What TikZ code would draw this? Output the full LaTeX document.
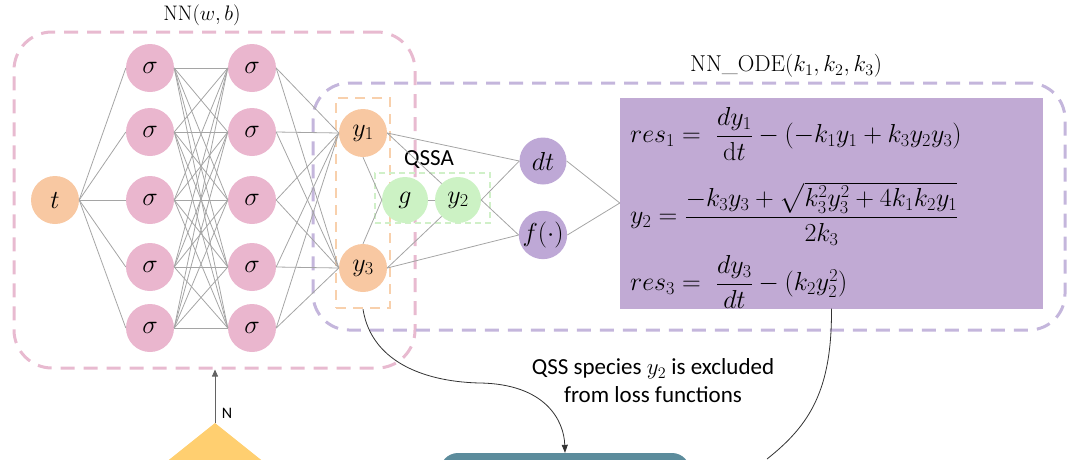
\RequirePackage{fix-cm}
\documentclass[tikz,border=0pt]{standalone}
\usepackage{amsmath}
\usepackage{fontspec}
\newfontfamily\calib{Carlito}
\usetikzlibrary{arrows.meta}
\definecolor{pinkN}{RGB}{234,182,206}
\definecolor{pinkD}{RGB}{232,186,208}
\definecolor{orangeN}{RGB}{248,200,162}
\definecolor{orangeD}{RGB}{248,208,172}
\definecolor{greenN}{RGB}{204,242,196}
\definecolor{greenD}{RGB}{208,240,200}
\definecolor{purpleN}{RGB}{190,168,214}
\definecolor{purpleD}{RGB}{196,182,220}
\definecolor{boxP}{RGB}{193,170,212}
\definecolor{tealB}{RGB}{92,140,156}
\definecolor{yellowT}{RGB}{255,207,112}
\definecolor{edgeG}{RGB}{165,165,165}
\tikzset{
  neuron/.style={circle, minimum size=48pt, inner sep=0pt, font=\fontsize{26}{28}\selectfont},
  sig/.style={neuron, fill=pinkN},
  onode/.style={neuron, fill=orangeN},
  gnode/.style={neuron, fill=greenN, minimum size=46pt},
  pnode/.style={neuron, fill=purpleN, minimum size=47pt},
  edge/.style={draw=edgeG, line width=0.8pt},
  curv/.style={draw=black!80, line width=0.8pt},
  pinkbox/.style={draw=pinkD, line width=3pt, dash pattern=on 14pt off 9pt, rounded corners=38pt, inner sep=0pt},
  purplebox/.style={draw=purpleD, line width=3pt, dash pattern=on 14pt off 9pt, rounded corners=36pt, inner sep=0pt},
  orangebox/.style={draw=orangeD, line width=2.5pt, dash pattern=on 10pt off 7pt, inner sep=0pt},
  greenbox/.style={draw=greenD, line width=1.5pt, dash pattern=on 6pt off 4pt, inner sep=0pt},
  eqn/.style={anchor=west, inner sep=0pt, font=\fontsize{26}{30}\selectfont},
  sanslabel/.style={font=\calib\fontsize{23}{28}\selectfont, inner sep=0pt},
}
\begin{document}
\begin{tikzpicture}[x=1pt,y=-1pt]
\useasboundingbox (0,0) rectangle (1080,459);
\clip (0,0) rectangle (1080,459);

% dashed frames
\node[pinkbox, minimum width=401pt, minimum height=336pt] (nnbox) at (214.5,200) {};
\node[purplebox, minimum width=752pt, minimum height=247pt] (odebox) at (689,206.5) {};
\node[orangebox, minimum width=54pt, minimum height=210pt] (obox) at (363,203) {};
\node[greenbox, minimum width=115pt, minimum height=50pt] (gbox) at (432.5,198) {};

% titles
\node[font=\fontsize{21}{24}\selectfont, inner sep=0pt] (t1) at (202,15) {NN$(w,b)$};
\node[font=\fontsize{23}{26}\selectfont, inner sep=0pt] (t2) at (786,66) {NN\_ODE$(k_1,k_2,k_3)$};
\node[sanslabel] (qssa) at (429,160) {QSSA};

% neurons
\node[onode] (t) at (55,200) {$t$};
\foreach \i/\yy in {1/68,2/132,3/200,4/267,5/328}{
  \node[sig] (a\i) at (150,\yy) {$\sigma$};
  \node[sig] (b\i) at (252,\yy) {$\sigma$};
}
\node[onode] (y1) at (363,133) {$y_1$};
\node[onode] (y3) at (363,268) {$y_3$};
\node[gnode] (g) at (405,200) {$g$};
\node[gnode] (y2) at (458,200) {$y_2$};
\node[pnode] (dt) at (543,161) {$dt$};
\node[pnode] (f) at (543,235) {$f(\cdot)$};

% equations box
\node[fill=boxP, minimum width=423pt, minimum height=211pt, inner sep=0pt] (eqbox) at (831.5,203) {};
\node[eqn] (e1) at (630,134) {$res_1 =\ \dfrac{dy_1}{\mathrm{d}t}-(-k_1y_1+k_3y_2y_3)$};
\node[eqn] (e2) at (630,214) {$y_2=\dfrac{-k_3y_3+\sqrt{k_3^2y_3^2+4k_1k_2y_1}}{2k_3}$};
\node[eqn] (e3) at (630,282) {$res_3 =\ \dfrac{dy_3}{dt}-(k_2y_2^2)$};

% connections
\foreach \i in {1,...,5}{
  \draw[edge] (t.east) -- (a\i.west);
  \draw[edge] (b\i.east) -- (y1.west);
  \draw[edge] (b\i.east) -- (y3.west);
  \foreach \j in {1,...,5}{
    \draw[edge] (a\i.east) -- (b\j.west);
  }
}
\draw[edge] (y1.south) -- (g.west);
\draw[edge] (y3.north) -- (g.west);
\draw[edge] (g.east) -- (y2.west);
\draw[edge] (y1.east) -- (y2.north west);
\draw[edge] (y3.east) -- (y2.south west);
\draw[edge] (y1.east) -- (dt.west);
\draw[edge] (y3.east) -- (f.west);
\draw[edge] (y2.east) -- (dt.west);
\draw[edge] (y2.east) -- (f.west);
\draw[edge] (dt.east) -- (eqbox.west);
\draw[edge] (f.east) -- (eqbox.west);

% bottom elements
\node[fill=tealB, rounded corners=18pt, minimum width=250pt, minimum height=70pt, inner sep=0pt] (loss) at (565,488) {};
\coordinate (apex) at (215,423);
\fill[yellowT] (apex) -- (95,519) -- (335,519) -- cycle;
\draw[edgeG!60!black, line width=0.8pt, -{Triangle[length=7pt,width=6pt]}] (apex) -- (nnbox.south -| apex);
\node[font=\calib\fontsize{16}{18}\selectfont, inner sep=0pt] (nlab) at (227,413) {N};

\draw[curv, -{Triangle[length=8pt,width=6pt]}] (obox.south) .. controls (372,365) and (430,382) .. (480,383) .. controls (545,384) and (564,420) .. (loss.north);
\coordinate (c2end) at (767,459);
\draw[curv] (eqbox.south) .. controls (832,390) and (810,425) .. (c2end);

\node[sanslabel, align=center] (note) at (653,381) {QSS species $y_2$ is excluded\\from loss functions};
\end{tikzpicture}
\end{document}
